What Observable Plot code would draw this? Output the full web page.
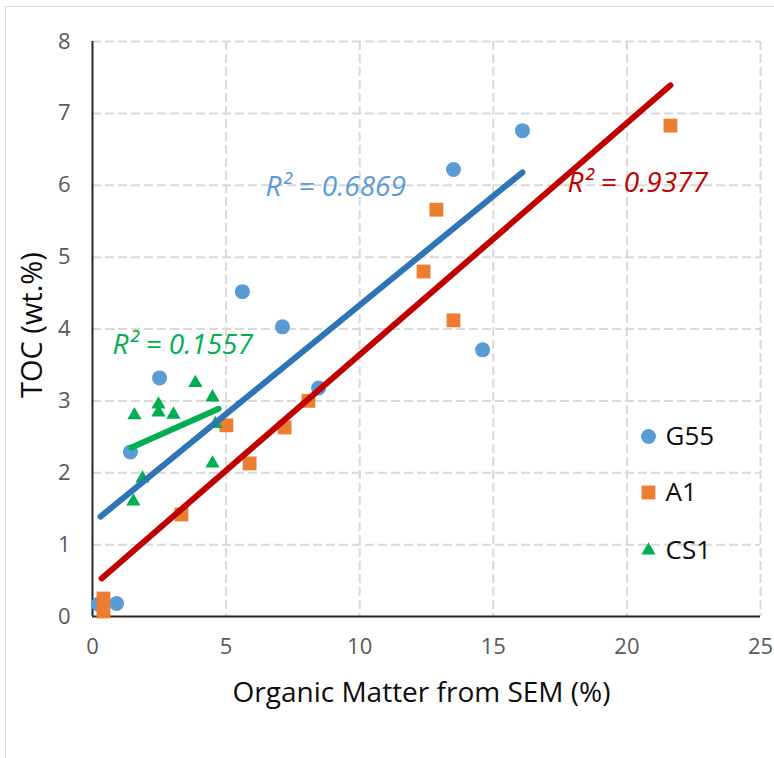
<!DOCTYPE html>
<html><head><meta charset="utf-8">
<script src="https://cdn.jsdelivr.net/npm/d3@7"></script>
<script src="https://cdn.jsdelivr.net/npm/@observablehq/plot@0.6"></script>
<style>
body{margin:0;background:#fff;overflow:hidden;font-family:"Open Sans",sans-serif;}
#wrap{position:relative;width:774px;height:758px;overflow:hidden;}
#frame{position:absolute;left:5px;top:6px;width:900px;height:900px;border:1.5px solid #d9d9d9;pointer-events:none;}
#wrap svg{position:absolute;left:0;top:0;}
</style></head><body><div id="wrap"><div id="frame"></div></div>
<script>
// Series data (Organic Matter from SEM %, TOC wt.%)
const g55X = [0.22, 0.90, 1.42, 2.51, 5.61, 7.11, 8.46, 13.51, 14.60, 16.09];
const g55Y = [0.17, 0.18, 2.29, 3.32, 4.52, 4.03, 3.18, 6.22, 3.71, 6.76];
const a1X = [0.41, 0.41, 3.33, 5.01, 5.88, 7.19, 8.08, 12.39, 12.87, 13.51, 21.63];
const a1Y = [0.25, 0.07, 1.42, 2.66, 2.13, 2.63, 3.00, 4.80, 5.66, 4.12, 6.83];
const cs1X = [1.57, 2.47, 2.47, 3.03, 3.85, 4.49, 4.60, 4.49, 1.87, 1.53];
const cs1Y = [2.80, 2.95, 2.84, 2.81, 3.25, 3.05, 2.68, 2.13, 1.92, 1.60];
// Linear trendline endpoints
const g55TrendX = [0.30, 16.09], g55TrendY = [1.39, 6.18];
const a1TrendX = [0.34, 21.63], a1TrendY = [0.53, 7.39];
const cs1TrendX = [1.46, 4.72], cs1TrendY = [2.35, 2.89];
const r2Labels = ["R² = 0.6869", "R² = 0.9377", "R² = 0.1557"];
const seriesNames = ["G55", "A1", "CS1"];
const xTicks = [0, 5, 10, 15, 20, 25];
const yTicks = [0, 1, 2, 3, 4, 5, 6, 7, 8];

const pts = (xs, ys) => xs.map((x, i) => ({x, y: ys[i]}));
const g55 = pts(g55X, g55Y), a1 = pts(a1X, a1Y), cs1 = pts(cs1X, cs1Y);
const g55T = pts(g55TrendX, g55TrendY), a1T = pts(a1TrendX, a1TrendY), cs1T = pts(cs1TrendX, cs1TrendY);

const cBlue = "#5b9bd5", cOrange = "#ed7d31", cGreen = "#00b050";
const gridStyle = {stroke: "#d9d9d9", strokeOpacity: 1, strokeWidth: 2, strokeDasharray: "9,4"};
const font = "Open Sans";

const legendMarks = [];
const legSym = ["circle", "square", "triangle"];
const legCol = [cBlue, cOrange, cGreen];
const legR = [7.5, 7.8, 5.3];
const legDy = [395, 451, 509];
seriesNames.forEach((name, i) => {
  legendMarks.push(Plot.dot([name], {frameAnchor: "top-left", dx: 556, dy: legDy[i], symbol: legSym[i], r: legR[i], fill: legCol[i]}));
  legendMarks.push(Plot.text([name], {frameAnchor: "top-left", dx: 573, dy: legDy[i], text: d => d, textAnchor: "start", lineAnchor: "middle", fontSize: 26, fontFamily: font, fill: "#0d0d0d"}));
});

const chart = Plot.plot({
  width: 774, height: 758,
  marginLeft: 92, marginRight: 14, marginTop: 41, marginBottom: 142,
  style: {fontFamily: font, background: "transparent"},
  x: {domain: [0, 25]},
  y: {domain: [0, 8]},
  marks: [
    Plot.gridX(xTicks.slice(1), gridStyle),
    Plot.gridY(yTicks.slice(1), gridStyle),
    Plot.ruleX([0], {stroke: "#262626", strokeWidth: 2}),
    Plot.ruleY([0], {stroke: "#262626", strokeWidth: 2}),
    Plot.axisX(xTicks, {tickSize: 0, tickPadding: 22, fontSize: 22, fill: "#595959", label: null, tickFormat: d => String(d)}),
    Plot.axisY(yTicks, {tickSize: 0, tickPadding: 22, fontSize: 22, fill: "#595959", label: null, tickFormat: d => String(d)}),
    Plot.dot(g55, {x: "x", y: "y", symbol: "circle", r: 7.5, fill: cBlue}),
    Plot.dot(a1, {x: "x", y: "y", symbol: "square", r: 7.8, fill: cOrange}),
    Plot.dot(cs1, {x: "x", y: "y", symbol: "triangle", r: 5.3, fill: cGreen}),
    Plot.line(g55T, {x: "x", y: "y", stroke: "#2e75b6", strokeWidth: 6, strokeLinecap: "round"}),
    Plot.line(a1T, {x: "x", y: "y", stroke: "#c00000", strokeWidth: 6, strokeLinecap: "round"}),
    Plot.line(cs1T, {x: "x", y: "y", stroke: cGreen, strokeWidth: 6, strokeLinecap: "round"}),
    Plot.text([r2Labels[0]], {frameAnchor: "top-left", dx: 173, dy: 154, text: d => d, textAnchor: "start", lineAnchor: "bottom", fontSize: 28, fontStyle: "italic", fontFamily: font, fill: cBlue}),
    Plot.text([r2Labels[1]], {frameAnchor: "top-left", dx: 475, dy: 150, text: d => d, textAnchor: "start", lineAnchor: "bottom", fontSize: 28, fontStyle: "italic", fontFamily: font, fill: "#c00000"}),
    Plot.text([r2Labels[2]], {frameAnchor: "top-left", dx: 20, dy: 312, text: d => d, textAnchor: "start", lineAnchor: "bottom", fontSize: 28, fontStyle: "italic", fontFamily: font, fill: cGreen}),
    ...legendMarks,
    Plot.text(["TOC (wt.%)"], {frameAnchor: "left", dx: -60, dy: 69, rotate: -90, text: d => d, fontSize: 29, fontFamily: font, fill: "#0d0d0d"}),
    Plot.text(["Organic Matter from SEM (%)"], {frameAnchor: "bottom", dx: -5, dy: 77, text: d => d, lineAnchor: "middle", fontSize: 28, fontFamily: font, fill: "#0d0d0d"})
  ]
});
document.getElementById("wrap").appendChild(chart);
</script>
</body></html>
